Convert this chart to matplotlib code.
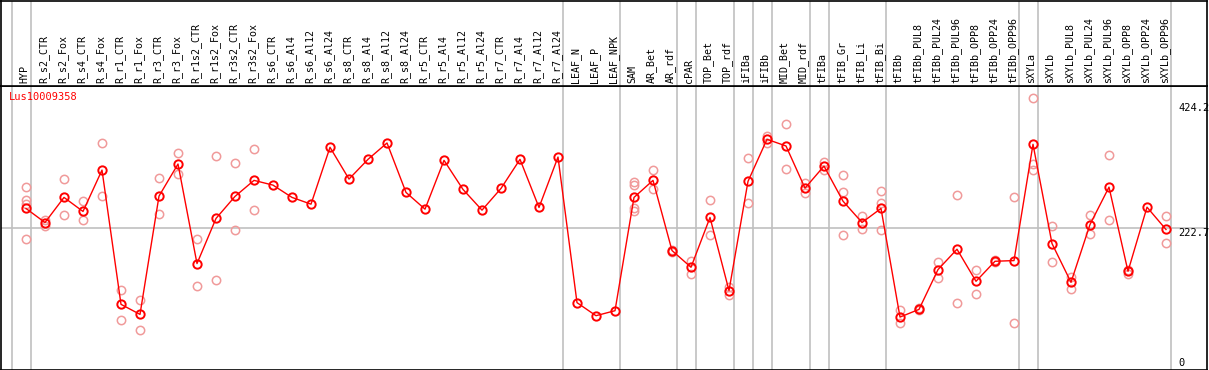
import matplotlib
matplotlib.use('Agg')
import matplotlib.pyplot as plt
import matplotlib.transforms as mtransforms

# sample names (x axis)
samples = ['HYP', 'R_s2_CTR', 'R_s2_Fox', 'R_s4_CTR', 'R_s4_Fox', 'R_r1_CTR', 'R_r1_Fox',
           'R_r3_CTR', 'R_r3_Fox', 'R_r1s2_CTR', 'R_r1s2_Fox', 'R_r3s2_CTR', 'R_r3s2_Fox',
           'R_s6_CTR', 'R_s6_Al4', 'R_s6_Al12', 'R_s6_Al24', 'R_s8_CTR', 'R_s8_Al4',
           'R_s8_Al12', 'R_s8_Al24', 'R_r5_CTR', 'R_r5_Al4', 'R_r5_Al12', 'R_r5_Al24',
           'R_r7_CTR', 'R_r7_Al4', 'R_r7_Al12', 'R_r7_Al24', 'LEAF_N', 'LEAF_P', 'LEAF_NPK',
           'SAM', 'AR_Bet', 'AR_rdf', 'cPAR', 'TOP_Bet', 'TOP_rdf', 'iFIBa', 'iFIBb',
           'MID_Bet', 'MID_rdf', 'tFIBa', 'tFIB_Gr', 'tFIB_Li', 'tFIB_Bi', 'tFIBb',
           'tFIBb_PUL8', 'tFIBb_PUL24', 'tFIBb_PUL96', 'tFIBb_OPP8', 'tFIBb_OPP24',
           'tFIBb_OPP96', 'sXYLa', 'sXYLb', 'sXYLb_PUL8', 'sXYLb_PUL24', 'sXYLb_PUL96',
           'sXYLb_OPP8', 'sXYLb_OPP24', 'sXYLb_OPP96']

# mean expression per sample
means = [254.8, 232.3, 272.5, 250.0, 316.3, 101.2, 85.1, 274.6, 326.0, 166.5,
         238.8, 274.1, 299.8, 292.2, 272.5, 261.7, 352.8, 301.9, 333.5, 359.7,
         280.5, 253.7, 331.9, 285.3, 252.1, 286.9, 333.5, 256.4, 337.2, 103.9,
         83.0, 91.0, 272.5, 299.8, 187.4, 160.6, 240.4, 123.2, 298.2, 365.6,
         354.9, 287.4, 322.7, 266.5, 232.3, 254.8, 80.8, 93.1, 156.9, 189.5,
         138.1, 170.2, 171.3, 357.6, 198.6, 136.5, 229.1, 289.0, 154.1, 256.9,
         221.1]

# individual replicates: (sample index, value)
rep_idx = [0, 0, 0, 0, 1, 1, 2, 2, 3, 3, 4, 4, 5, 5, 6, 6, 7, 7, 8, 8,
           9, 9, 10, 10, 11, 11, 12, 12,
           32, 32, 32, 32, 33, 33, 34, 34, 35, 35, 36, 36, 37, 37, 38, 38,
           39, 39, 40, 40, 41, 41, 42, 42, 43, 43, 43, 44, 44, 45, 45, 45,
           46, 46, 47, 47, 48, 48, 49, 49, 50, 50, 51, 51, 52, 52,
           53, 53, 53, 54, 54, 55, 55, 56, 56, 57, 57, 58, 58, 60, 60]
rep_val = [289.0, 268.2, 261.7, 205.5, 236.0, 226.4, 301.4, 243.6, 266.5, 236.0,
           359.2, 274.1, 124.8, 76.6, 107.6, 60.5, 303.0, 245.2, 343.6, 309.4,
           205.1, 130.1, 338.8, 139.7, 327.1, 220.0, 350.0, 252.1,
           296.6, 292.2, 254.8, 251.0, 315.8, 285.3, 189.0, 185.1, 170.7, 149.8,
           267.7, 211.5, 128.9, 116.1, 335.1, 262.9, 371.4, 360.2, 389.7, 317.4,
           295.0, 278.9, 328.7, 316.3, 307.8, 281.0, 211.5, 242.0, 222.1,
           282.1, 262.9, 219.5, 92.6, 71.1, 94.7, 91.5, 168.6, 144.0, 275.7, 103.9,
           156.9, 118.3, 171.8, 168.6, 273.0, 71.8, 431.5, 326.0, 316.3,
           226.4, 169.7, 145.0, 126.4, 244.1, 214.0, 339.9, 235.6, 156.9, 150.5,
           242.5, 199.6]

# group separators (after these sample indices)
group_ends = [-1, 0, 28, 31, 34, 35, 37, 38, 39, 41, 42, 45, 52, 53, 60]
ytick_vals = [424.2, 222.7]

W, H = 1209, 370
fig = plt.figure(figsize=(W / 100, H / 100), dpi=100)
hdr = 86
ax = fig.add_axes([0.5 / W, 0.5 / H, 1206.5 / W, (H - hdr - 0.5) / H])
axh = fig.add_axes([0.5 / W, (H - hdr) / H, 1206.5 / W, (hdr - 0.5) / H])

xmin, xmax = (0.5 - 26) / 19, (1207 - 26) / 19
for a in (ax, axh):
    a.set_xlim(xmin, xmax)
    a.set_xticks([])
    a.set_yticks([])
    for s in a.spines.values():
        s.set_color('black')
        s.set_linewidth(1.2)
    for g in group_ends:
        a.axvline(g + 0.24, color='#c0c0c0', lw=1.2, zorder=0)
axh.set_ylim(0, 1)
ax.set_ylim(-3.2, 451)

ax.axhline(222.7, color='#c0c0c0', lw=1.2, zorder=0)

x = list(range(len(samples)))
ax.plot(rep_idx, rep_val, 'o', ms=6, mfc='none', mec='#f09a9a', mew=1.1, zorder=2)
ax.plot(x, means, '-', color='red', lw=1, zorder=3)
ax.plot(x, means, 'o', ms=6, mfc='none', mec='red', mew=1.4, zorder=4)

# sample labels in header
for i, name in enumerate(samples):
    axh.text(i - 0.08, 0.03, name, rotation=90, ha='center', va='bottom',
             fontsize=7.2, family='DejaVu Sans Mono')

# y value labels on right
lx = (1178 - 26) / 19
for v in ytick_vals:
    ax.text(lx, v, '%.1f' % v, ha='left', va='top', fontsize=7.5,
            family='DejaVu Sans Mono')
ax.text(lx, 0, '0', ha='left', va='bottom', fontsize=7.5, family='DejaVu Sans Mono')

fig.text(9 / W, 1 - 97 / H, 'Lus10009358', color='red', fontsize=7.5,
         family='DejaVu Sans Mono', va='center', ha='left')

fig.savefig('out.png', dpi=100)
